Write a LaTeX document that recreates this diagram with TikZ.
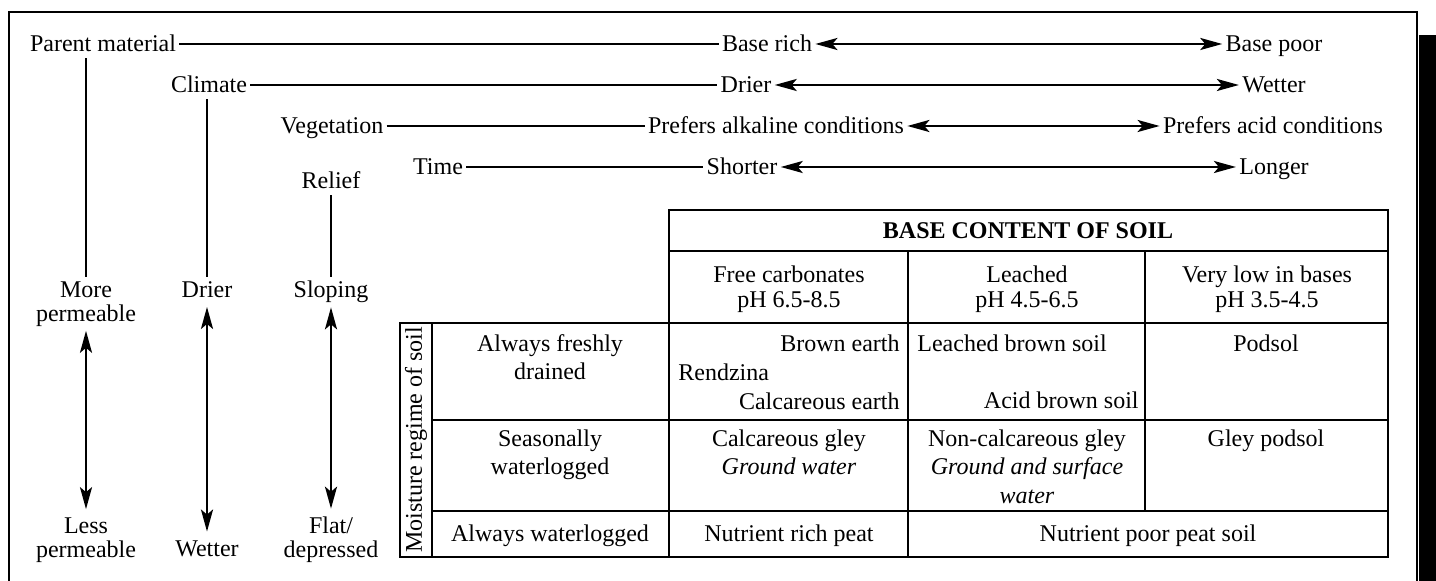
\documentclass[tikz,border=0pt,12pt]{standalone}
\usepackage{fontspec}
\setmainfont{Liberation Serif}
\usetikzlibrary{arrows.meta,positioning}
\begin{document}
\begin{tikzpicture}[x=0.5pt, y=-0.5pt,
	word/.style={text height=8pt, text depth=0pt, inner ysep=3pt, inner xsep=1.5pt},
	side/.style={align=center, inner sep=2pt, font=\fontsize{12}{12}\selectfont},
	head/.style={align=center, inner sep=0pt, font=\fontsize{12}{12.5}\selectfont},
	cell/.style={align=center, inner sep=0pt, anchor=north, font=\fontsize{12}{14.25}\selectfont},
	link/.style={line width=1.25pt},
	twoway/.style={line width=1.3pt, {Stealth[length=11pt,width=6pt,inset=2.5pt]}-{Stealth[length=11pt,width=6pt,inset=2.5pt]}},
	grid/.style={line width=1.3pt}]
	\useasboundingbox (0,0) rectangle (1436,581);
	\clip (0,0) rectangle (1436,581);
	% frame and edge bar
	\draw[line width=1pt] (9,600) |- (1417,12) -- (1417,600);
	\fill (1419,35) rectangle (1436,600);
	% factors
	\node[word] (pm) at (103,44) {Parent material};
	\node[word] (rich) at (767,44) {Base rich};
	\node[word] (poor) at (1274,44) {Base poor};
	\node[word] (clim) at (209,85) {Climate};
	\node[word] (drier) at (746,85) {Drier};
	\node[word] (wetter) at (1274,85) {Wetter};
	\node[word] (veg) at (332,126) {Vegetation};
	\node[word] (alk) at (776,126) {Prefers alkaline conditions};
	\node[word] (acid) at (1273,126) {Prefers acid conditions};
	\node[word] (time) at (438,167) {Time};
	\node[word] (short) at (742,167) {Shorter};
	\node[word] (long) at (1274,167) {Longer};
	\node[word] (relief) at (331,181) {Relief};
	\draw[link] (pm) -- (rich);
	\draw[twoway] (rich) -- (poor);
	\draw[link] (clim) -- (drier);
	\draw[twoway] (drier) -- (wetter);
	\draw[link] (veg) -- (alk);
	\draw[twoway] (alk) -- (acid);
	\draw[link] (time) -- (short);
	\draw[twoway] (short) -- (long);
	% vertical scales
	\node[side] (more) at (86,304) {More\\permeable};
	\node[side] (less) at (86,540) {Less\\permeable};
	\node[side, text depth=2.6pt] (dry) at (207,292) {Drier};
	\node[side] (wet) at (207,549) {Wetter};
	\node[side, text depth=2.6pt] (slope) at (331,292) {Sloping};
	\node[side] (flat) at (331,540) {Flat/\\depressed};
	\draw[link] (pm.south -| more) -- (more);
	\draw[link] (clim.south -| dry) -- (dry);
	\draw[link] (relief) -- (slope);
	\draw[twoway, shorten >=2pt] (more) -- (less);
	\draw[twoway, shorten >=2.5pt] (dry) -- (wet);
	\draw[twoway, shorten >=2pt] (slope) -- (flat);
	% table
	\draw[grid] (669,210) rectangle (1388,323);
	\draw[grid] (669,251) -- (1388,251);
	\draw[grid] (400,323) rectangle (1388,557);
	\draw[grid] (432,323) -- (432,557);
	\draw[grid] (669,323) -- (669,557);
	\draw[grid] (908,251) -- (908,557);
	\draw[grid] (1145,251) -- (1145,511);
	\draw[grid] (432,420) -- (1388,420);
	\draw[grid] (432,511) -- (1388,511);
	\node[font=\bfseries] (base) at (1028,231) {BASE CONTENT OF SOIL};
	\node[head] (free) at (789,289) {Free carbonates\\pH 6.5-8.5};
	\node[head] (leach) at (1027,289) {Leached\\pH 4.5-6.5};
	\node[head] (verylow) at (1267,289) {Very low in bases\\pH 3.5-4.5};
	\node[rotate=90] (moist) at (416,440) {Moisture regime of soil};
	\node[cell] (fresh) at (550,334) {Always freshly\\drained};
	\node[cell, anchor=north east] (brown) at (900,334) {Brown earth};
	\node[cell, anchor=north west] (rend) at (678,363) {Rendzina};
	\node[cell, anchor=north east] (calce) at (900,392) {Calcareous earth};
	\node[cell, anchor=north west] (lbs) at (917,334) {Leached brown soil};
	\node[cell, anchor=north east] (abs) at (1139,391) {Acid brown soil};
	\node[cell] (podsol) at (1266,334) {Podsol};
	\node[cell] (seas) at (550,429) {Seasonally\\waterlogged};
	\node[cell] (cgley) at (789,429) {Calcareous gley\\\textit{Ground water}};
	\node[cell] (ncgley) at (1027,429) {Non-calcareous gley\\\textit{Ground and surface}\\\textit{water}};
	\node[cell] (gpod) at (1266,429) {Gley podsol};
	\node[cell] (alwet) at (550,524) {Always waterlogged};
	\node[cell] (nrich) at (789,524) {Nutrient rich peat};
	\node[cell] (npoor) at (1148,524) {Nutrient poor peat soil};
\end{tikzpicture}
\end{document}
